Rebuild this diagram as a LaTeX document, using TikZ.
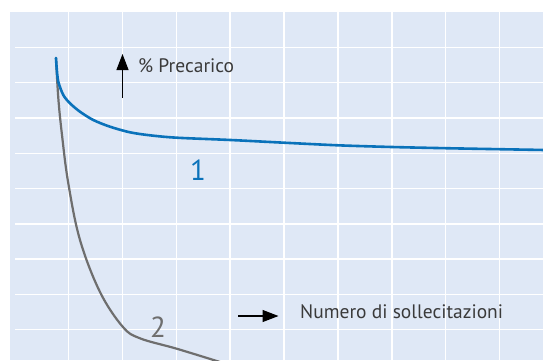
\documentclass[tikz,border=0pt]{standalone}
\usepackage{fontspec}
\setmainfont{PT Sans}
\usetikzlibrary{arrows.meta}
\definecolor{bgblue}{HTML}{DFE8F6}
\definecolor{curveblue}{HTML}{0A72BA}
\definecolor{curvegray}{HTML}{6E6E6E}
\definecolor{txtgray}{HTML}{3A3A3A}
\tikzset{
  gridline/.style={white,line width=1.4pt},
  lbl/.style={text=txtgray,font=\fontsize{19.5}{19.5}\selectfont,inner sep=0pt,anchor=base west},
  numlbl/.style={font=\fontsize{29}{29}\selectfont,inner sep=0pt,anchor=base},
  axarrow/.style={black,line width=1.1pt,-{Triangle[length=16pt,width=12pt]}},
  curveA/.style={curveblue,line width=2.6pt,line cap=round},
  curveB/.style={curvegray,line width=2.2pt,line cap=round}
}
\begin{document}
\begin{tikzpicture}[x=1pt,y=-1pt]
\useasboundingbox (0,0) rectangle (543,360);
\fill[bgblue] (10,12) rectangle (543,360);
\foreach \gx in {68.4,122.3,176.2,230.1,284.0,337.9,391.8,445.7,499.6}
  \draw[gridline] (\gx,12) -- (\gx,360);
\foreach \gy in {47.3,82.6,117.9,153.2,188.5,223.8,259.1,294.4,329.7}
  \draw[gridline] (15,\gy) -- (543,\gy);
\begin{scope}
\clip (10,12) rectangle (543,360);
\draw[curveB] plot[smooth,tension=0.6] coordinates {(56,58) (58.3,98) (62,135) (68.3,183.3) (80,240) (100,292) (122.7,326.7) (140,338.3) (176.7,348.7) (220,362)};
\draw[curveA] plot[smooth,tension=0.5] coordinates {(56,58) (56.7,68.3) (58.3,81.7) (63.3,95) (70,103.3) (80,111.7) (93.3,120) (110,126.7) (130,132.3) (150,135.3) (176.7,137.7) (230.7,140) (284,142.7) (338,145.3) (392,147) (446,148.2) (500,149.2) (545,150)};
\end{scope}
\coordinate (upS) at (122.5,98);
\coordinate (upE) at (122.5,54);
\draw[axarrow] (upS) -- (upE);
\coordinate (rtS) at (238,316);
\coordinate (rtE) at (278.5,316);
\draw[axarrow] (rtS) -- (rtE);
\node[lbl] (precarico) at (138,72.3) {\% Precarico};
\node[lbl] (numero) at (300,318.3) {Numero di sollecitazioni};
\node[numlbl,text=curveblue] (one) at (198,180) {1};
\node[numlbl,text=curvegray] (two) at (158,337.3) {2};
\end{tikzpicture}
\end{document}
